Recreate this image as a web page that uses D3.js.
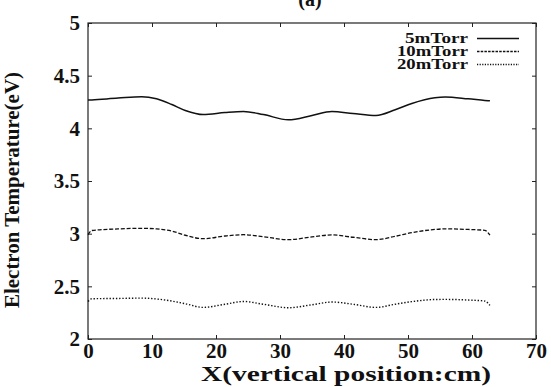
<!DOCTYPE html>
<html>
<head>
<meta charset="utf-8">
<script src="https://cdn.jsdelivr.net/npm/d3@7"></script>
<style>
  body { margin: 0; background: #fff; }
</style>
</head>
<body>
<svg id="chart" width="551" height="387"></svg>
<script>
// x positions (cm) shared by all three curves
const xPos = [0, 0.6, 4.7, 8.4, 10.7, 13.1, 15.2, 18.0, 21.4, 24.3, 27.4, 31.3, 35.0, 38.1, 41.4, 45.0, 48.0, 50.6, 54.2, 55.8, 59.4, 62.0, 62.8];
const te5 = [4.268, 4.27, 4.287, 4.30, 4.28, 4.226, 4.17, 4.131, 4.15, 4.16, 4.131, 4.081, 4.122, 4.16, 4.141, 4.122, 4.176, 4.236, 4.29, 4.297, 4.28, 4.265, 4.261];
const te10 = [2.99, 3.03, 3.045, 3.051, 3.045, 3.025, 2.985, 2.952, 2.978, 2.99, 2.971, 2.943, 2.969, 2.988, 2.966, 2.943, 2.975, 3.01, 3.04, 3.046, 3.04, 3.032, 2.985];
const te20 = [2.357, 2.382, 2.385, 2.388, 2.38, 2.36, 2.335, 2.30, 2.33, 2.356, 2.33, 2.297, 2.325, 2.351, 2.33, 2.30, 2.33, 2.355, 2.375, 2.376, 2.37, 2.36, 2.319];
const seriesNames = ["5mTorr", "10mTorr", "20mTorr"];
const xTicks = [0, 10, 20, 30, 40, 50, 60, 70];
const yTicks = [2, 2.5, 3, 3.5, 4, 4.5, 5];

const svg = d3.select("#chart");
const mLeft = 88, mRight = 536, mTop = 23, mBottom = 339;
const serif = "Liberation Serif";

const x = d3.scaleLinear().domain([0, 70]).range([mLeft, mRight]);
const y = d3.scaleLinear().domain([2, 5]).range([mBottom, mTop]);

const dashes = [null, "4,1.8", "1.4,1.8"];
const widths = [1.5, 1.3, 1.4];
const series = [te5, te10, te20];

// frame
svg.append("rect")
  .attr("x", mLeft).attr("y", mTop)
  .attr("width", mRight - mLeft).attr("height", mBottom - mTop)
  .attr("fill", "none").attr("stroke", "#222").attr("stroke-width", 1.2);

// inward ticks on all sides
const tickLen = 4;
svg.append("g").attr("transform", `translate(0,${mBottom})`)
  .call(d3.axisBottom(x).tickValues(xTicks).tickSize(-tickLen).tickPadding(4).tickFormat(d3.format("d")))
  .call(g => g.select(".domain").remove())
  .call(g => g.selectAll("text").attr("font-size", 21).attr("dy", "0.72em"));
svg.append("g").attr("transform", `translate(0,${mTop})`)
  .call(d3.axisTop(x).tickValues(xTicks).tickSize(-tickLen).tickFormat(""))
  .call(g => g.select(".domain").remove());
svg.append("g").attr("transform", `translate(${mLeft},0)`)
  .call(d3.axisLeft(y).tickValues(yTicks).tickSize(-tickLen).tickPadding(8).tickFormat(d => d3.format("")(d)))
  .call(g => g.select(".domain").remove())
  .call(g => g.selectAll("text").attr("font-size", 21));
svg.append("g").attr("transform", `translate(${mRight},0)`)
  .call(d3.axisRight(y).tickValues(yTicks).tickSize(-tickLen).tickFormat(""))
  .call(g => g.select(".domain").remove());
svg.selectAll(".tick line").attr("stroke", "#222").attr("stroke-width", 1);

// curves
const line = d3.line()
  .x((d, i) => x(xPos[i]))
  .y(d => y(d))
  .curve(d3.curveMonotoneX);

series.forEach((s, k) => {
  svg.append("path")
    .datum(s)
    .attr("d", line)
    .attr("fill", "none")
    .attr("stroke", "#111")
    .attr("stroke-width", widths[k])
    .attr("stroke-dasharray", dashes[k]);
});

// legend
const legendWidths = [63, 71, 71];
const legend = svg.append("g");
seriesNames.forEach((name, k) => {
  const by = 43 + k * 13;
  legend.append("text")
    .attr("x", 468).attr("y", by)
    .attr("text-anchor", "end")
    .attr("font-size", 15)
    .attr("textLength", legendWidths[k])
    .attr("lengthAdjust", "spacingAndGlyphs")
    .text(name);
  legend.append("line")
    .attr("x1", 477).attr("x2", 519)
    .attr("y1", by - 4.5).attr("y2", by - 4.5)
    .attr("stroke", "#111")
    .attr("stroke-width", widths[k])
    .attr("stroke-dasharray", k === 1 ? "2.5,1.2" : k === 2 ? "1.2,1.4" : null);
});

// titles
svg.append("text")
  .attr("x", 310).attr("y", 6)
  .attr("text-anchor", "middle")
  .attr("font-size", 20)
  .text("(a)");

svg.append("text")
  .attr("x", 346).attr("y", 381)
  .attr("text-anchor", "middle")
  .attr("font-size", 22)
  .attr("textLength", 290)
  .attr("lengthAdjust", "spacingAndGlyphs")
  .text("X(vertical position:cm)");

svg.append("text")
  .attr("transform", "translate(19,190) rotate(-90)")
  .attr("text-anchor", "middle")
  .attr("font-size", 20)
  .attr("textLength", 236)
  .attr("lengthAdjust", "spacingAndGlyphs")
  .text("Electron Temperature(eV)");

// one serif bold face for every label
svg.selectAll("text")
  .attr("font-family", serif)
  .attr("font-weight", "bold")
  .attr("fill", "#111");
</script>
</body>
</html>
